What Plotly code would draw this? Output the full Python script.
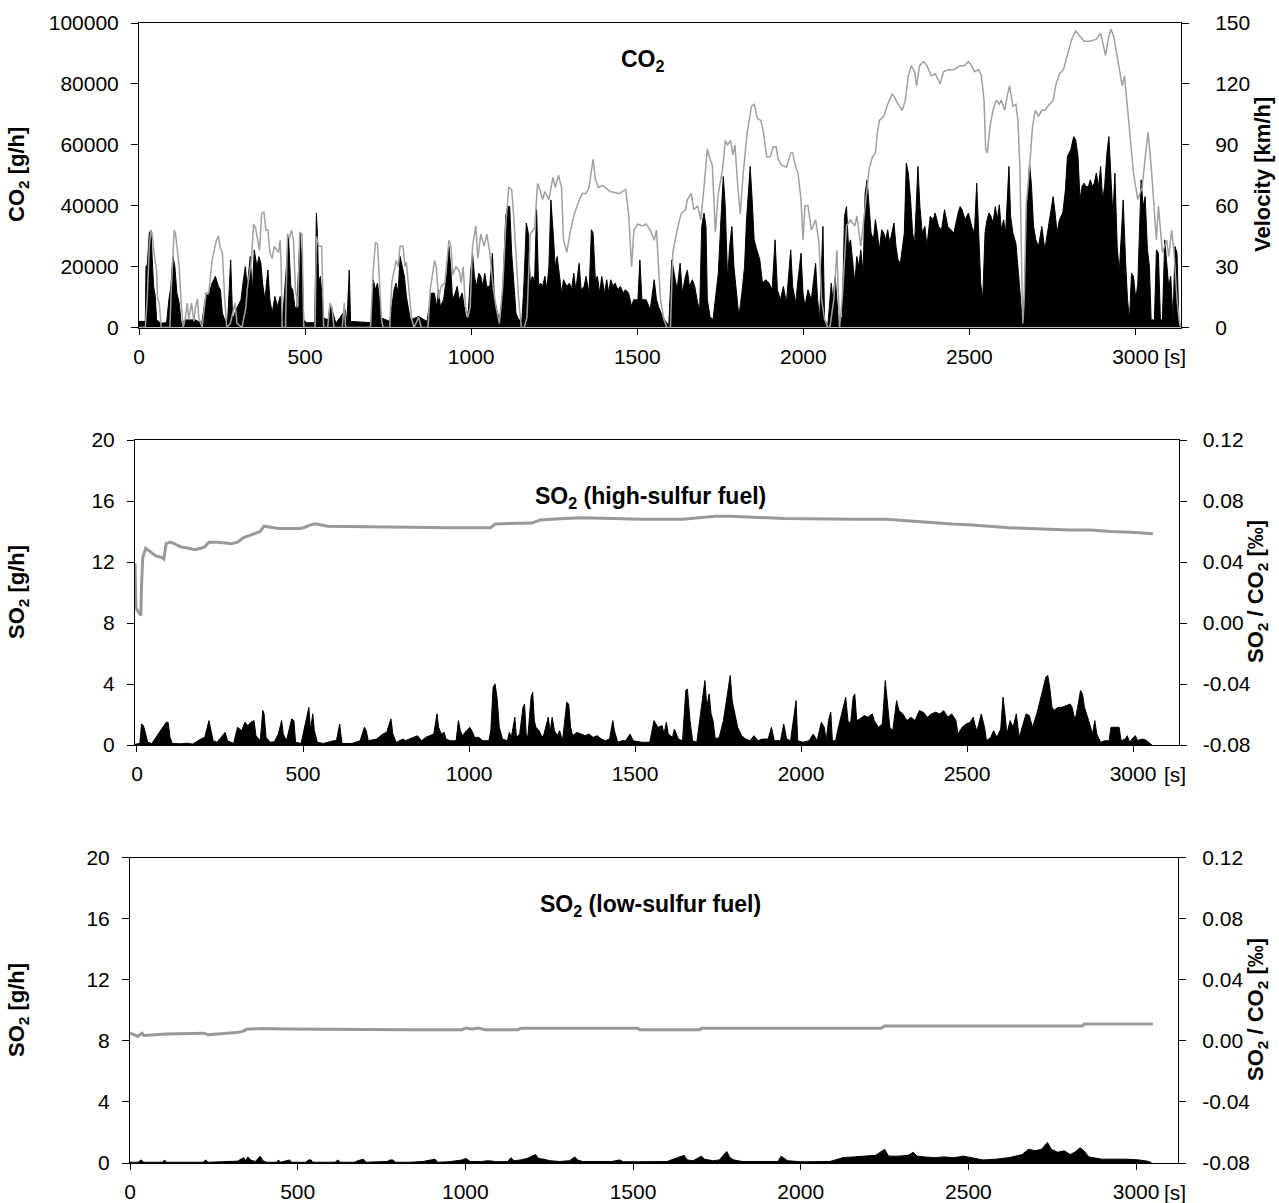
import plotly.graph_objects as go

# ---------------- Panel 1: CO2 [g/h] (black area) ----------------
co2_t = [0, 19, 21, 25, 31, 36, 40, 44, 49, 53, 65, 83, 90, 96, 102, 108, 114, 121, 127, 139, 158, 170, 189,
         202, 208, 220, 230, 239, 245, 251, 258, 267, 276, 282, 292, 307, 313, 320, 326, 335, 341, 347, 355,
         361, 367, 372, 379, 388, 394, 401, 409, 417, 425, 432, 444, 450, 457, 463, 469, 475, 485, 491, 496,
         504, 529, 534, 537, 541, 546, 551, 556, 569, 575, 581, 593, 621, 626, 633, 637, 699, 705, 712, 718,
         724, 730, 755, 761, 768, 774, 780, 786, 792, 799, 805, 811, 817, 842, 867, 880, 889, 896, 902, 907,
         917, 927, 933, 939, 944, 952, 958, 964, 973, 979, 985, 992, 998, 1004, 1010, 1016, 1023, 1029, 1035,
         1041, 1047, 1056, 1064, 1070, 1079, 1085, 1094, 1104, 1110, 1116, 1122, 1128, 1135, 1143, 1153, 1159,
         1166, 1172, 1178, 1184, 1191, 1197, 1203, 1209, 1215, 1222, 1228, 1234, 1240, 1247, 1253, 1259, 1265,
         1272, 1278, 1288, 1296, 1302, 1309, 1315, 1325, 1331, 1340, 1346, 1355, 1362, 1367, 1374, 1380, 1387,
         1393, 1402, 1408, 1414, 1420, 1427, 1433, 1442, 1449, 1458, 1464, 1474, 1483, 1489, 1502, 1508, 1514,
         1527, 1539, 1551, 1558, 1564, 1576, 1589, 1595, 1604, 1611, 1620, 1629, 1636, 1645, 1651, 1657, 1666,
         1673, 1682, 1688, 1694, 1701, 1707, 1711, 1719, 1728, 1735, 1744, 1753, 1759, 1765, 1772, 1778, 1785,
         1791, 1798, 1806, 1815, 1823, 1829, 1835, 1840, 1846, 1852, 1860, 1869, 1877, 1887, 1897, 1906, 1915,
         1922, 1931, 1940, 1949, 1962, 1968, 1977, 1984, 1993, 1999, 2005, 2014, 2024, 2037, 2043, 2049, 2059,
         2064, 2074, 2084, 2089, 2096, 2101, 2106, 2117, 2124, 2130, 2136, 2142, 2149, 2155, 2161, 2167, 2173,
         2180, 2186, 2192, 2198, 2204, 2211, 2217, 2223, 2229, 2236, 2242, 2248, 2254, 2260, 2267, 2273, 2279,
         2285, 2292, 2298, 2304, 2310, 2316, 2323, 2329, 2335, 2345, 2351, 2358, 2366, 2372, 2382, 2391, 2397,
         2407, 2416, 2425, 2435, 2445, 2453, 2466, 2472, 2478, 2487, 2497, 2507, 2515, 2522, 2528, 2534, 2540,
         2547, 2553, 2559, 2565, 2571, 2578, 2584, 2590, 2596, 2603, 2609, 2619, 2624, 2631, 2640, 2646, 2652,
         2659, 2665, 2673, 2681, 2687, 2693, 2700, 2708, 2718, 2727, 2736, 2743, 2752, 2758, 2764, 2771, 2781,
         2789, 2795, 2805, 2814, 2820, 2827, 2833, 2839, 2845, 2851, 2858, 2864, 2870, 2876, 2882, 2889, 2895,
         2901, 2907, 2914, 2920, 2926, 2932, 2938, 2945, 2951, 2957, 2963, 2970, 2976, 2982, 2988, 2994, 3001,
         3007, 3017, 3023, 3029, 3036, 3042, 3047, 3057, 3063, 3069, 3075, 3081, 3088, 3094, 3100, 3106, 3113,
         3119, 3125, 3131, 3137]
co2_v = [2000, 2000, 20000, 20600, 31000, 32000, 22200, 13500, 10200, 2500, 1400, 1600, 9100, 13500, 23300,
         20000, 11300, 8000, 1400, 2500, 2500, 2500, 1400, 11300, 10200, 14600, 16800, 13500, 12400, 4700,
         2500, 2500, 22200, 2500, 5800, 9100, 14600, 20000, 13500, 23300, 11300, 25500, 20000, 23300, 21100,
         14600, 9100, 18900, 9100, 4700, 10200, 6900, 10200, 2500, 20000, 29900, 13500, 12400, 6900, 5800,
         31000, 20000, 2500, 1600, 1600, 37600, 31000, 14600, 16800, 9100, 3100, 2500, 6900, 5800, 1400, 5800,
         1600, 18900, 2000, 1600, 15700, 12400, 14600, 9100, 3100, 2000, 6900, 12400, 14600, 11300, 23300,
         20000, 16800, 10200, 5800, 2500, 3600, 2000, 11300, 11300, 6900, 12400, 6900, 9100, 17800, 26600,
         18900, 9100, 11300, 13500, 9100, 11300, 6900, 2500, 5800, 17800, 24400, 16800, 13500, 17800, 16800,
         13500, 17800, 13500, 13500, 24400, 9100, 4700, 2500, 9100, 36500, 39700, 39700, 24400, 14600, 4700,
         2500, 2500, 14600, 34300, 31000, 14600, 16800, 15700, 38700, 13500, 14600, 13500, 16800, 12400,
         20000, 41900, 31000, 20000, 23300, 17800, 11300, 15700, 13500, 14600, 12400, 17800, 12400, 21100,
         12400, 13500, 16800, 11300, 32100, 31000, 15700, 16800, 11300, 16800, 11300, 15700, 11300, 15700,
         13500, 14600, 12400, 13500, 11300, 12400, 11300, 6900, 9100, 9100, 22200, 9100, 9100, 5800, 15700,
         9100, 6900, 3600, 1400, 900, 22200, 17800, 12400, 21100, 11300, 16800, 18900, 13500, 15700, 13500,
         8000, 5800, 33200, 37600, 33200, 9100, 3600, 2500, 9100, 17800, 37600, 49600, 39700, 15700, 26600,
         33200, 20000, 11300, 3600, 11300, 20000, 35400, 46300, 52900, 41900, 28800, 25500, 22200, 14600,
         15700, 14600, 12400, 28800, 12400, 9100, 13500, 8000, 25500, 13500, 8000, 15700, 24400, 11300, 6900,
         12400, 9100, 21100, 9100, 2500, 33200, 2500, 900, 14600, 9100, 16800, 10200, 1400, 3600, 36500,
         39700, 26600, 28800, 20000, 14600, 23300, 20000, 25500, 17800, 44100, 48500, 39700, 31000, 28800,
         35400, 31000, 25500, 32100, 31000, 28800, 32100, 27700, 31000, 34300, 26600, 22200, 21100, 25500,
         31000, 54000, 50700, 41900, 31000, 27700, 52900, 39700, 31000, 33200, 26600, 36500, 35400, 37600,
         33200, 32100, 38700, 33200, 32100, 31000, 37600, 39700, 38700, 35400, 37600, 33200, 31000, 47400,
         31000, 14600, 9100, 31000, 35400, 37600, 36500, 34300, 39700, 35400, 40300, 32100, 35400, 31000,
         52900, 36500, 31000, 27700, 20000, 11300, 2500, 9100, 37600, 54000, 46300, 33200, 28800, 26600,
         33200, 25500, 32100, 36500, 43000, 37600, 31000, 35400, 37600, 45200, 56200, 58400, 62700, 61600,
         56200, 41900, 46300, 47400, 46300, 46300, 48500, 46300, 47400, 50700, 46300, 52900, 41900, 46300,
         57300, 62700, 48500, 36500, 50700, 26600, 17800, 31000, 41900, 22200, 9100, 2500, 17800, 16800, 9100,
         14600, 48500, 39700, 43000, 25500, 20000, 2500, 2500, 25500, 24400, 2500, 2500, 28800, 20000, 13500,
         16800, 2500, 26600, 24400, 300, 300]

# ---------------- Panel 1: velocity [km/h] (grey line) ----------------
vel_t = [0, 19, 25, 31, 36, 40, 45, 53, 56, 61, 67, 93, 97, 102, 106, 110, 121, 127, 133, 140, 145, 150, 158, 165,
         170, 176, 180, 190, 196, 202, 210, 220, 233, 239, 245, 251, 258, 264, 275, 289, 295, 310, 322, 326, 338,
         345, 351, 363, 369, 376, 382, 388, 394, 401, 407, 420, 425, 428, 431, 441, 447, 453, 459, 465, 471, 478,
         484, 491, 496, 530, 534, 541, 550, 556, 568, 575, 581, 587, 612, 618, 622, 634, 697, 705, 712, 718, 724,
         730, 735, 755, 761, 774, 780, 786, 795, 801, 805, 811, 821, 828, 842, 850, 870, 877, 890, 895, 902, 909,
         921, 933, 939, 945, 954, 964, 970, 976, 983, 990, 997, 1004, 1014, 1020, 1029, 1039, 1047, 1056, 1066,
         1075, 1085, 1095, 1104, 1113, 1122, 1128, 1135, 1143, 1151, 1160, 1168, 1178, 1191, 1200, 1209, 1215,
         1222, 1234, 1246, 1253, 1263, 1272, 1278, 1288, 1297, 1309, 1321, 1334, 1346, 1355, 1367, 1374, 1383,
         1396, 1418, 1446, 1465, 1474, 1483, 1490, 1502, 1515, 1527, 1539, 1551, 1558, 1564, 1570, 1580, 1589,
         1600, 1607, 1620, 1632, 1645, 1651, 1663, 1670, 1682, 1691, 1701, 1711, 1719, 1726, 1735, 1744, 1757,
         1765, 1772, 1781, 1788, 1794, 1803, 1810, 1819, 1831, 1844, 1852, 1862, 1872, 1880, 1890, 1900, 1910,
         1918, 1924, 1934, 1950, 1962, 1968, 1977, 1984, 1993, 1999, 2005, 2014, 2024, 2037, 2047, 2055, 2064,
         2074, 2080, 2092, 2101, 2109, 2117, 2130, 2142, 2155, 2161, 2173, 2180, 2192, 2198, 2208, 2217, 2223,
         2229, 2242, 2254, 2267, 2273, 2285, 2298, 2307, 2316, 2325, 2335, 2341, 2350, 2362, 2372, 2385, 2397,
         2412, 2422, 2435, 2453, 2472, 2485, 2497, 2503, 2516, 2528, 2536, 2544, 2549, 2554, 2562, 2571, 2581,
         2590, 2596, 2606, 2615, 2621, 2631, 2640, 2646, 2652, 2659, 2661, 2665, 2671, 2681, 2690, 2698, 2708,
         2718, 2727, 2736, 2752, 2761, 2771, 2783, 2795, 2808, 2820, 2830, 2845, 2864, 2882, 2895, 2905, 2910,
         2918, 2926, 2935, 2945, 2955, 2960, 2967, 2974, 2982, 2994, 3007, 3020, 3032, 3038, 3047, 3054, 3063,
         3069, 3075, 3081, 3094, 3100, 3109, 3116, 3125, 3131, 3137]
vel_v = [0, 0, 15, 40, 48, 46, 37, 28, 14, 12, 0, 0, 18, 40, 48, 46, 30, 12, 0, 5, 12, 4, 12, 3,
         10, 14, 5, 0, 10, 17, 17, 33, 43, 45, 39, 37, 14, 0, 2, 12, 2, 0, 10, 19, 33,
         51, 49, 38, 56, 57, 48, 48, 37, 34, 40, 37, 43, 30, 0, 0, 46, 44, 48, 43, 19, 10,
         47, 46, 0, 0, 45, 40, 40, 0, 0, 12, 10, 0, 0, 12, 0, 0, 0, 28, 42, 41, 22,
         4, 0, 0, 22, 33, 30, 40, 40, 30, 32, 22, 4, 0, 5, 0, 0, 19, 33, 30, 14, 20,
         22, 43, 40, 26, 30, 28, 22, 30, 10, 5, 10, 40, 50, 34, 46, 40, 46, 37, 20,
         10, 2, 20, 50, 69, 68, 55, 37, 14, 0, 0, 5, 46, 49, 71, 67, 63,
         67, 63, 74, 69, 75, 69, 43, 37, 46, 55, 61, 66, 66, 69, 83, 73, 69,
         70, 67, 66, 68, 56, 30, 48, 51, 50, 51, 48, 43, 48, 30, 14, 4, 0,
         0, 37, 48, 56, 58, 63, 66, 58, 60, 53, 69, 88, 83, 80, 47, 66, 78,
         92, 90, 92, 85, 90, 69, 56, 76, 96, 109, 110, 103, 102, 96, 84, 84, 89,
         89, 83, 80, 79, 86, 86, 79, 76, 63, 43, 60, 60, 48, 53, 42, 14, 4,
         0, 0, 14, 38, 0, 14, 50, 53, 50, 55, 40, 50, 71, 78, 84, 86, 96,
         102, 104, 110, 115, 114, 110, 107, 112, 124, 129, 126, 119, 129, 131, 129, 124, 125,
         120, 126, 127, 127, 129, 129, 131, 130, 126, 127, 124, 112, 88, 86, 99, 107, 112,
         110, 112, 107, 115, 119, 109, 110, 102, 79, 14, 2, 14, 60, 79, 99, 107, 104,
         107, 107, 109, 112, 120, 125, 127, 134, 142, 146, 144, 141, 141, 142, 145, 138, 134,
         142, 147, 143, 134, 124, 119, 124, 112, 99, 76, 63, 69, 88, 96, 80, 63, 43,
         60, 48, 37, 43, 35, 48, 37, 14, 4, 0]

# ---------------- Panel 2: SO2 high-sulfur fuel [g/h] ----------------
so2h_t = [0, 15, 20, 26, 33, 39, 52, 96, 102, 108, 115, 140, 160, 178, 203, 215, 228, 234, 241, 253, 278, 285, 304,
          316, 329, 339, 348, 357, 367, 373, 386, 394, 398, 404, 417, 430, 442, 452, 457, 467, 483, 490, 495, 512,
          530, 536, 541, 548, 553, 562, 581, 612, 621, 631, 638, 669, 694, 707, 713, 719, 745, 764, 776, 789, 795,
          805, 827, 833, 858, 871, 883, 896, 908, 921, 931, 936, 944, 953, 959, 971, 990, 997, 1003, 1009, 1022,
          1032, 1041, 1047, 1060, 1072, 1091, 1097, 1104, 1110, 1116, 1123, 1133, 1148, 1154, 1160, 1171, 1176,
          1186, 1196, 1201, 1206, 1211, 1221, 1226, 1231, 1236, 1246, 1255, 1261, 1274, 1280, 1286, 1293, 1302,
          1309, 1318, 1324, 1331, 1337, 1343, 1349, 1362, 1375, 1387, 1400, 1412, 1425, 1438, 1450, 1463, 1473,
          1478, 1488, 1501, 1513, 1526, 1536, 1562, 1587, 1600, 1606, 1613, 1625, 1631, 1638, 1644, 1657, 1663,
          1675, 1688, 1698, 1703, 1711, 1719, 1732, 1738, 1748, 1757, 1763, 1770, 1776, 1782, 1789, 1801, 1814,
          1826, 1835, 1841, 1849, 1858, 1870, 1883, 1896, 1908, 1921, 1933, 1952, 1962, 1971, 1990, 2000, 2009,
          2021, 2038, 2043, 2059, 2078, 2091, 2103, 2116, 2125, 2131, 2138, 2145, 2150, 2160, 2166, 2179, 2185,
          2191, 2198, 2206, 2214, 2219, 2225, 2235, 2248, 2260, 2273, 2279, 2292, 2304, 2313, 2321, 2327, 2336,
          2348, 2355, 2367, 2380, 2392, 2405, 2418, 2430, 2443, 2455, 2468, 2481, 2493, 2506, 2518, 2531, 2537,
          2550, 2562, 2575, 2584, 2594, 2600, 2609, 2619, 2625, 2638, 2647, 2657, 2669, 2676, 2682, 2688, 2698,
          2707, 2717, 2726, 2738, 2747, 2757, 2767, 2780, 2789, 2798, 2808, 2814, 2820, 2827, 2833, 2845, 2858,
          2871, 2883, 2889, 2898, 2906, 2915, 2921, 2927, 2940, 2952, 2959, 2965, 2977, 2990, 3003, 3009, 3015,
          3028, 3034, 3040, 3053, 3059, 3066, 3078, 3084, 3091, 3103, 3116, 3128, 3135]
so2h_v = [0.05, 0.1, 1.38, 1.27, 0.72, 0.18, 0.1, 1.49, 1.49, 0.5, 0.1, 0.08, 0.12, 0.06, 0.39, 0.5, 1.6, 0.94,
          0.28, 0.18, 0.83, 0.28, 0.1, 1.16, 0.94, 1.49, 1.27, 1.49, 1.6, 0.61, 0.28, 2.26, 2.04, 0.5, 0.18, 0.22,
          0.72, 1.6, 0.72, 0.28, 1.71, 1.6, 0.18, 0.1, 2.04, 2.47, 0.94, 2.04, 0.94, 0.18, 0.1, 0.28, 0.28, 1.38,
          0.1, 0.1, 0.28, 1.16, 0.94, 0.28, 0.39, 0.72, 0.83, 1.71, 0.72, 0.18, 0.39, 0.28, 0.5, 0.61, 0.28, 0.5,
          0.61, 0.72, 2.04, 1.16, 0.72, 0.83, 0.39, 0.28, 0.28, 1.6, 0.94, 0.61, 0.94, 1.16, 0.83, 0.5, 0.5, 0.28,
          0.28, 0.94, 3.79, 4.0, 3.13, 1.16, 0.39, 0.28, 0.83, 0.5, 1.82, 0.5, 0.72, 2.47, 2.69, 0.72, 0.5, 3.13,
          3.46, 1.6, 1.16, 0.94, 0.5, 0.72, 1.82, 0.83, 1.82, 0.94, 0.61, 0.94, 0.28, 1.6, 2.8, 2.69, 1.16, 0.61,
          0.83, 0.72, 0.61, 0.72, 0.5, 0.61, 0.39, 0.28, 0.39, 1.6, 0.94, 0.18, 0.28, 0.28, 0.72, 0.28, 0.18, 0.18,
          1.6, 1.38, 1.16, 1.27, 0.72, 1.49, 0.72, 0.5, 1.05, 0.39, 0.28, 3.57, 3.68, 1.6, 0.28, 0.18, 1.16, 2.47,
          4.23, 2.47, 3.35, 2.04, 1.6, 0.39, 0.5, 1.6, 3.13, 4.56, 2.91, 2.04, 1.16, 0.61, 0.39, 0.28, 0.61, 0.28,
          0.39, 0.39, 1.16, 0.28, 0.28, 1.38, 0.39, 0.28, 2.91, 0.28, 0.18, 0.28, 0.72, 0.28, 1.49, 1.16, 0.28,
          1.6, 2.15, 0.28, 0.28, 0.94, 2.04, 2.69, 3.13, 1.6, 1.38, 3.13, 3.35, 1.6, 1.71, 1.93, 1.82, 2.04, 1.6,
          1.16, 1.38, 4.23, 2.69, 1.16, 0.94, 2.91, 2.26, 2.04, 1.6, 1.82, 1.6, 2.26, 2.15, 1.82, 2.04, 2.15, 2.04,
          2.26, 1.82, 2.04, 1.6, 0.72, 1.16, 1.38, 1.49, 1.82, 0.94, 1.27, 2.04, 1.16, 0.28, 0.5, 0.94, 0.5, 1.05,
          3.13, 2.04, 0.72, 1.6, 1.16, 2.04, 0.5, 1.38, 2.04, 1.93, 1.16, 2.04, 2.91, 3.57, 4.45, 4.56, 3.79, 2.47,
          2.26, 2.47, 2.47, 2.58, 2.69, 2.47, 1.6, 2.47, 3.57, 3.35, 2.47, 1.6, 0.72, 1.6, 0.72, 0.18, 0.28, 0.28,
          1.16, 1.16, 1.16, 1.16, 0.28, 0.39, 0.61, 0.18, 0.5, 0.61, 0.28, 0.39, 0.33, 0.1, 0.0]

# ---------------- Panel 2: SO2/CO2 ratio, high-sulfur fuel [permil] ----------------
rath_t = [0, 3, 8, 14, 18, 20, 24, 33, 45, 64, 83, 89, 96, 108, 121, 140, 165, 184, 203, 215, 228, 254, 279, 297,
          316, 335, 354, 373, 386, 398, 417, 442, 505, 520, 537, 556, 593, 782, 845, 971, 1097, 1110, 1223, 1249,
          1324, 1375, 1475, 1562, 1688, 1738, 1789, 1839, 1889, 1940, 2002, 2216, 2317, 2380, 2443, 2518, 2569,
          2631, 2694, 2757, 2820, 2883, 2946, 3009, 3072, 3138]
rath_v = [0.039, 0.010, 0.008, 0.006, 0.005, 0.024, 0.043, 0.049, 0.047, 0.044, 0.043, 0.042, 0.052, 0.053,
          0.052, 0.050, 0.049, 0.048, 0.049, 0.050, 0.053, 0.053, 0.0525, 0.052, 0.053, 0.056, 0.0575, 0.059,
          0.060, 0.0635, 0.063, 0.062, 0.062, 0.0625, 0.064, 0.065, 0.0635, 0.063, 0.0625, 0.0625, 0.0625,
          0.065, 0.0655, 0.0675, 0.0685, 0.069, 0.0685, 0.068, 0.068, 0.069, 0.070, 0.070, 0.0695, 0.069,
          0.0685, 0.068, 0.068, 0.067, 0.066, 0.065, 0.0645, 0.0635, 0.0625, 0.062, 0.0615, 0.061, 0.061,
          0.060, 0.0595, 0.0585]

# ---------------- Panel 3: SO2 low-sulfur fuel [g/h] ----------------
so2l_t = [0, 25, 34, 42, 100, 106, 112, 225, 232, 240, 280, 300, 330, 349, 355, 362, 370, 385, 400, 408, 420, 450,
          456, 462, 490, 496, 540, 548, 556, 562, 630, 638, 645, 690, 700, 717, 725, 790, 799, 808, 815, 860, 900,
          937, 945, 980, 1020, 1032, 1045, 1080, 1100, 1130, 1160, 1170, 1180, 1200, 1220, 1246, 1255, 1270, 1290,
          1320, 1350, 1366, 1375, 1390, 1440, 1480, 1504, 1515, 1560, 1600, 1650, 1702, 1712, 1730, 1755, 1765,
          1790, 1810, 1833, 1843, 1855, 1880, 1950, 1990, 2000, 2010, 2020, 2060, 2100, 2150, 2190, 2240, 2290,
          2318, 2330, 2360, 2390, 2406, 2418, 2440, 2470, 2500, 2530, 2560, 2590, 2620, 2660, 2700, 2740, 2760,
          2780, 2800, 2818, 2830, 2850, 2870, 2888, 2905, 2918, 2930, 2945, 2985, 3020, 3060, 3100, 3130, 3138]
so2l_v = [0.05, 0.05, 0.2, 0.05, 0.05, 0.2, 0.05, 0.05, 0.2, 0.05, 0.08, 0.1, 0.12, 0.35, 0.15, 0.4, 0.2, 0.1,
          0.45, 0.15, 0.05, 0.05, 0.2, 0.05, 0.2, 0.05, 0.05, 0.2, 0.2, 0.05, 0.05, 0.2, 0.05, 0.05, 0.15, 0.25,
          0.05, 0.1, 0.2, 0.2, 0.05, 0.05, 0.1, 0.25, 0.05, 0.08, 0.2, 0.3, 0.1, 0.1, 0.15, 0.08, 0.1, 0.35, 0.15,
          0.2, 0.3, 0.55, 0.3, 0.25, 0.15, 0.1, 0.15, 0.4, 0.2, 0.1, 0.1, 0.1, 0.2, 0.08, 0.08, 0.1, 0.1, 0.5,
          0.2, 0.15, 0.45, 0.25, 0.15, 0.2, 0.75, 0.35, 0.2, 0.1, 0.08, 0.1, 0.45, 0.3, 0.15, 0.08, 0.08, 0.1,
          0.35, 0.45, 0.5, 0.9, 0.45, 0.45, 0.5, 0.7, 0.45, 0.4, 0.35, 0.4, 0.35, 0.45, 0.3, 0.2, 0.25, 0.35,
          0.55, 0.9, 0.8, 0.9, 1.35, 0.9, 0.7, 0.8, 0.55, 0.75, 1.0, 0.8, 0.4, 0.25, 0.25, 0.25, 0.2, 0.1, 0.0]

# ---------------- Panel 3: SO2/CO2 ratio, low-sulfur fuel [permil] ----------------
ratl_t = [0, 12, 24, 37, 43, 112, 226, 240, 280, 326, 345, 358, 402, 478, 856, 1020, 1032, 1050, 1070, 1090, 1190,
          1202, 1560, 1566, 1750, 1755, 2308, 2318, 2925, 2931, 3142]
ratl_v = [0.005, 0.004, 0.003, 0.005, 0.0035, 0.0045, 0.005, 0.004, 0.0045, 0.0055, 0.006, 0.0075, 0.008,
          0.0077, 0.0073, 0.0073, 0.0084, 0.0078, 0.0084, 0.0073, 0.0073, 0.0082, 0.0082, 0.0073, 0.0073,
          0.0082, 0.0082, 0.0097, 0.0097, 0.011, 0.011]

# ---------------- Axis ticks / labels ----------------
x_ticks = [0, 500, 1000, 1500, 2000, 2500, 3000]
co2_ticks = [0, 20000, 40000, 60000, 80000, 100000]
vel_ticks = [0, 30, 60, 90, 120, 150]
so2_ticks = [0, 4, 8, 12, 16, 20]
ratio_ticks = [-0.08, -0.04, 0.0, 0.04, 0.08, 0.12]
ratio_labels = ["-0.08", "-0.04", "0.00", "0.04", "0.08", "0.12"]

W, H = 1279, 1203
FONT = "Liberation Sans, Arial, sans-serif"
GREY = "#a0a0a0"
TICK_SIZE = 21
TITLE_SIZE = 22


def px_x(p):
    return p / W


def px_y(p):
    return 1 - p / H


# Per panel: plot box in pixels, data x-range, range of the labelled time scale, right-label standoff
panels = [
    dict(xl=139.0, xr=1181.0, yt=23.0, yb=327.5, data_max=3137, lab=(0, 3137), rstand=22),
    dict(xl=135.0, xr=1178.5, yt=440.0, yb=745.0, data_max=3217, lab=(-6, 3137), rstand=12),
    dict(xl=130.0, xr=1178.0, yt=857.5, yb=1163.0, data_max=3219, lab=(0, 3125), rstand=12),
]

fig = go.Figure()

fig.add_trace(go.Scatter(x=co2_t, y=co2_v, xaxis="x", yaxis="y", mode="lines", fill="tozeroy",
                         line=dict(color="black", width=1), fillcolor="black", showlegend=False))
fig.add_trace(go.Scatter(x=vel_t, y=vel_v, xaxis="x", yaxis="y2", mode="lines",
                         line=dict(color=GREY, width=1.5), showlegend=False))
fig.add_trace(go.Scatter(x=so2h_t, y=so2h_v, xaxis="x2", yaxis="y3", mode="lines", fill="tozeroy",
                         line=dict(color="black", width=1), fillcolor="black", showlegend=False))
fig.add_trace(go.Scatter(x=rath_t, y=rath_v, xaxis="x2", yaxis="y4", mode="lines",
                         line=dict(color="#999999", width=3), showlegend=False))
fig.add_trace(go.Scatter(x=so2l_t, y=so2l_v, xaxis="x3", yaxis="y5", mode="lines", fill="tozeroy",
                         line=dict(color="black", width=1), fillcolor="black", showlegend=False))
fig.add_trace(go.Scatter(x=ratl_t, y=ratl_v, xaxis="x3", yaxis="y6", mode="lines",
                         line=dict(color="#999999", width=3), showlegend=False))
# empty traces so the tick-label time axes of panels 1-3 are created
for k in range(3):
    fig.add_trace(go.Scatter(x=[], y=[], xaxis=f"x{4 + k}", yaxis="y" if k == 0 else f"y{2 * k + 1}",
                             mode="lines", showlegend=False, hoverinfo="skip"))

common = dict(showgrid=False, zeroline=False, linecolor="black", linewidth=1,
              tickcolor="black", tickwidth=1, automargin=False,
              tickfont=dict(family=FONT, size=TICK_SIZE, color="black"))

layout = dict(template="none", width=W, height=H, margin=dict(l=0, r=0, t=0, b=0, pad=0),
              paper_bgcolor="white", plot_bgcolor="white", showlegend=False)

left_specs = [(co2_ticks, [str(v) for v in co2_ticks], [0, 100000]),
              (so2_ticks, [str(v) for v in so2_ticks], [0, 20]),
              (so2_ticks, [str(v) for v in so2_ticks], [0, 20])]
right_specs = [(vel_ticks, [str(v) for v in vel_ticks], [0, 150]),
               (ratio_ticks, ratio_labels, [-0.08, 0.12]),
               (ratio_ticks, ratio_labels, [-0.08, 0.12])]

for i, p in enumerate(panels):
    xa = "xaxis" if i == 0 else f"xaxis{i + 1}"
    xlab = f"xaxis{4 + i}"
    ya_l = "yaxis" if i == 0 else f"yaxis{2 * i + 1}"
    ya_r = f"yaxis{2 * i + 2}"
    xref = "x" if i == 0 else f"x{i + 1}"
    yref_l = "y" if i == 0 else f"y{2 * i + 1}"
    dom_x = [px_x(p["xl"]), px_x(p["xr"])]
    # data time axis: frame line only
    layout[xa] = dict(domain=dom_x, range=[0, p["data_max"]], anchor=yref_l, showline=True, mirror=True,
                      ticks="", showticklabels=False, **common)
    # labelled time axis: ticks and tick labels
    layout[xlab] = dict(domain=dom_x, range=list(p["lab"]), anchor=yref_l, overlaying=xref, side="bottom",
                        showline=False, ticks="outside", ticklen=6, tickvals=x_ticks,
                        ticktext=[str(v) for v in x_ticks], ticklabelstandoff=4, **common)
    tv, tt, rg = left_specs[i]
    layout[ya_l] = dict(domain=[px_y(p["yb"]), px_y(p["yt"])], range=rg, anchor=xref, showline=True,
                        ticks="outside", tickvals=tv, ticktext=tt, ticklen=7, ticklabelstandoff=8, **common)
    tv, tt, rg = right_specs[i]
    layout[ya_r] = dict(domain=[px_y(p["yb"]), px_y(p["yt"])], range=rg, anchor=xref, overlaying=yref_l,
                        side="right", showline=True, ticks="outside", tickvals=tv, ticktext=tt, ticklen=7,
                        ticklabelstandoff=p["rstand"], **common)

fig.update_layout(**layout)

ann = []
sub_font = dict(family=FONT, size=23, color="black")
title_font = dict(family=FONT, size=TITLE_SIZE, color="black")
# panel subtitles
for txt, x, y in [("<b>CO<sub>2</sub></b>", 643, 60), ("<b>SO<sub>2</sub> (high-sulfur fuel)</b>", 650, 497),
                  ("<b>SO<sub>2</sub> (low-sulfur fuel)</b>", 650, 905)]:
    ann.append(dict(text=txt, x=px_x(x), y=px_y(y), xref="paper", yref="paper",
                    showarrow=False, font=sub_font, xanchor="center", yanchor="middle"))
# axis titles
for txt, x, y in [("<b>CO<sub>2</sub> [g/h]</b>", 18, 175), ("<b>Velocity [km/h]</b>", 1262, 175),
                  ("<b>SO<sub>2</sub> [g/h]</b>", 18, 592), ("<b>SO<sub>2</sub> / CO<sub>2</sub> [‰]</b>", 1257, 592),
                  ("<b>SO<sub>2</sub> [g/h]</b>", 18, 1010), ("<b>SO<sub>2</sub> / CO<sub>2</sub> [‰]</b>", 1257, 1010)]:
    ann.append(dict(text=txt, x=px_x(x), y=px_y(y), xref="paper", yref="paper", textangle=-90,
                    showarrow=False, font=title_font, xanchor="center", yanchor="middle"))
# "[s]" unit labels, aligned with the x tick labels
for p in panels:
    ann.append(dict(text="[s]", x=px_x(1175), y=px_y(p["yb"] + 29), xref="paper", yref="paper",
                    showarrow=False, font=dict(family=FONT, size=TICK_SIZE, color="black"),
                    xanchor="center", yanchor="middle"))
fig.update_layout(annotations=ann)

fig.write_html("out.html", config={"displayModeBar": False},
               post_script="document.body.style.margin='0px';document.body.style.overflow='hidden';")
